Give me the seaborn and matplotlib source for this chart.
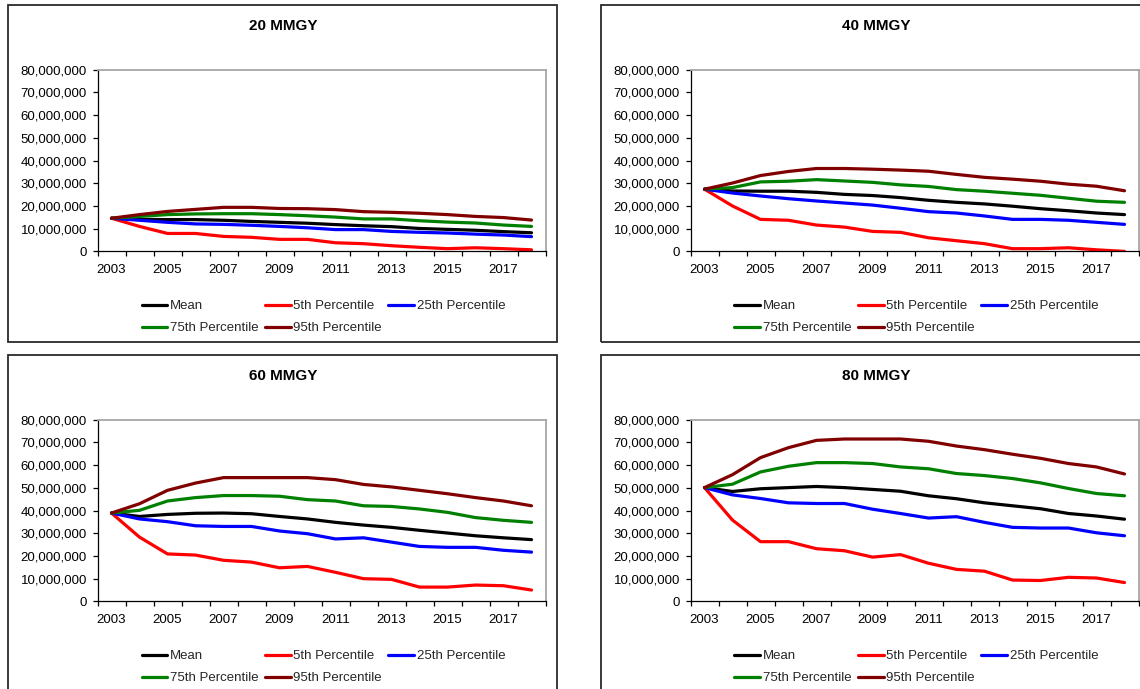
import numpy as np
import pandas as pd
import matplotlib
matplotlib.use("Agg")
import matplotlib.pyplot as plt
import seaborn as sns
from matplotlib.patches import Rectangle
from matplotlib.lines import Line2D
from matplotlib.ticker import FuncFormatter, FixedLocator

# ---------------- data (values in millions) ----------------
years = list(range(2003, 2019))
year_tick_labels = ["2003", "2005", "2007", "2009", "2011", "2013", "2015", "2017"]
panel_titles = ["20 MMGY", "40 MMGY", "60 MMGY", "80 MMGY"]
series_names = ["Mean", "5th Percentile", "25th Percentile", "75th Percentile", "95th Percentile"]
series_colors = ["#000000", "#ff0000", "#0000ff", "#008000", "#800000"]

mmgy20_mean = [14.6, 14.1, 14.0, 14.0, 13.7, 13.2, 12.8, 12.4, 11.8, 11.3, 10.9, 10.1, 9.7, 9.3, 8.7, 8.2]
mmgy20_p5   = [14.6, 11.0, 7.9, 7.9, 6.6, 6.2, 5.3, 5.3, 3.8, 3.4, 2.5, 1.8, 1.2, 1.6, 1.2, 0.7]
mmgy20_p25  = [14.6, 13.7, 12.8, 12.1, 11.9, 11.5, 11.0, 10.4, 9.6, 9.6, 8.8, 8.4, 8.1, 7.6, 7.2, 6.5]
mmgy20_p75  = [14.6, 15.4, 16.2, 16.5, 16.6, 16.6, 16.2, 15.7, 15.1, 14.3, 14.3, 13.5, 12.9, 12.5, 11.6, 11.0]
mmgy20_p95  = [14.6, 16.2, 17.6, 18.5, 19.4, 19.4, 18.9, 18.8, 18.4, 17.5, 17.2, 16.8, 16.2, 15.4, 14.9, 13.8]

mmgy40_mean = [27.4, 26.6, 26.5, 26.5, 26.0, 25.1, 24.6, 23.7, 22.5, 21.6, 20.9, 19.9, 18.8, 17.9, 16.9, 16.2]
mmgy40_p5   = [27.4, 20.0, 14.1, 13.7, 11.6, 10.7, 8.8, 8.4, 6.0, 4.7, 3.4, 1.2, 1.2, 1.6, 0.7, 0.0]
mmgy40_p25  = [27.4, 25.7, 24.4, 23.2, 22.2, 21.3, 20.4, 19.0, 17.5, 16.9, 15.6, 14.1, 14.1, 13.7, 12.8, 11.9]
mmgy40_p75  = [27.4, 28.1, 30.6, 30.9, 31.6, 31.0, 30.4, 29.3, 28.6, 27.2, 26.5, 25.6, 24.7, 23.4, 22.1, 21.6]
mmgy40_p95  = [27.4, 30.1, 33.4, 35.2, 36.5, 36.5, 36.2, 35.8, 35.3, 33.9, 32.6, 31.8, 30.9, 29.6, 28.7, 26.7]

mmgy60_mean = [38.9, 37.4, 38.3, 38.8, 38.9, 38.6, 37.4, 36.3, 34.8, 33.6, 32.6, 31.3, 30.1, 28.9, 28.0, 27.2]
mmgy60_p5   = [38.9, 28.3, 20.9, 20.4, 18.1, 17.3, 14.8, 15.4, 12.8, 10.0, 9.7, 6.3, 6.3, 7.2, 6.9, 5.0]
mmgy60_p25  = [38.9, 36.3, 35.1, 33.3, 33.0, 33.0, 31.0, 29.8, 27.5, 28.0, 26.1, 24.2, 23.8, 23.8, 22.5, 21.7]
mmgy60_p75  = [38.9, 40.1, 44.2, 45.7, 46.6, 46.6, 46.3, 44.8, 44.2, 42.1, 41.8, 40.7, 39.2, 36.9, 35.7, 34.8]
mmgy60_p95  = [38.9, 43.0, 48.9, 52.1, 54.5, 54.5, 54.5, 54.5, 53.6, 51.5, 50.4, 48.9, 47.4, 45.7, 44.2, 42.1]

mmgy80_mean = [50.1, 48.4, 49.6, 50.1, 50.6, 50.1, 49.3, 48.5, 46.5, 45.2, 43.4, 42.1, 40.8, 38.7, 37.6, 36.2]
mmgy80_p5   = [50.1, 35.8, 26.3, 26.3, 23.2, 22.3, 19.5, 20.6, 16.8, 14.1, 13.3, 9.4, 9.2, 10.6, 10.3, 8.3]
mmgy80_p25  = [50.1, 46.9, 45.3, 43.4, 43.1, 43.1, 40.6, 38.7, 36.7, 37.3, 34.8, 32.6, 32.3, 32.3, 30.2, 28.9]
mmgy80_p75  = [50.1, 51.6, 57.0, 59.5, 61.1, 61.1, 60.7, 59.2, 58.4, 56.3, 55.4, 54.1, 52.2, 49.7, 47.5, 46.5]
mmgy80_p95  = [50.1, 55.8, 63.3, 67.7, 70.9, 71.5, 71.5, 71.5, 70.5, 68.4, 66.8, 64.8, 63.0, 60.7, 59.2, 56.1]

panel_series = [
    [mmgy20_mean, mmgy20_p5, mmgy20_p25, mmgy20_p75, mmgy20_p95],
    [mmgy40_mean, mmgy40_p5, mmgy40_p25, mmgy40_p75, mmgy40_p95],
    [mmgy60_mean, mmgy60_p5, mmgy60_p25, mmgy60_p75, mmgy60_p95],
    [mmgy80_mean, mmgy80_p5, mmgy80_p25, mmgy80_p75, mmgy80_p95],
]

# ---------------- figure ----------------
W, H = 1140, 689
sns.set_theme(style="white")
plt.rcParams["font.family"] = ["Liberation Sans", "DejaVu Sans"]
fig = plt.figure(figsize=(W / 100, H / 100), dpi=100)
fig.patch.set_facecolor("white")

TICK_FS = 9.5
LEG_FS = 9.5
TITLE_FS = 11

# panel geometry in pixels: frame left, frame top
frames = [(8, 5), (601, 5), (8, 355), (601, 355)]
FRAME_W, FRAME_H = 549, 337
PLOT_DX, PLOT_DY_TOP, PLOT_W, PLOT_H = 89.5, 64.7, 448, 181.7

palette = dict(zip(series_names, series_colors))
n = len(years)

for k, (fx, fy) in enumerate(frames):
    # outer frame
    fig.patches.append(Rectangle((fx / W, 1 - (fy + FRAME_H) / H), FRAME_W / W, FRAME_H / H,
                                 transform=fig.transFigure, fill=False,
                                 edgecolor="#2a2a2a", linewidth=1.3, zorder=0))
    left = (fx + PLOT_DX) / W
    top = fy + PLOT_DY_TOP
    ax = fig.add_axes([left, 1 - (top + PLOT_H) / H, PLOT_W / W, PLOT_H / H])

    rows = []
    for name, vals in zip(series_names, panel_series[k]):
        for i, v in enumerate(vals):
            rows.append({"pos": i, "value": v * 1e6, "series": name})
    df = pd.DataFrame(rows)
    sns.lineplot(data=df, x="pos", y="value", hue="series", hue_order=series_names,
                 palette=palette, linewidth=2.3, legend=False, ax=ax, sort=False)

    ax.set_xlim(-0.5, n - 0.5)
    ax.set_ylim(0, 80e6)
    ax.set_xlabel("")
    ax.set_ylabel("")
    ax.set_facecolor("white")

    ax.xaxis.set_major_locator(FixedLocator(list(range(0, n, 2))))
    ax.set_xticklabels(year_tick_labels)
    ax.xaxis.set_minor_locator(FixedLocator([i - 0.5 for i in range(n + 1)]))
    ax.tick_params(axis="x", which="major", length=0, pad=9, labelsize=TICK_FS, labelcolor="black")
    ax.tick_params(axis="x", which="minor", length=3.6, width=0.9, color="black", direction="out", bottom=True)
    ax.set_yticks(np.arange(0, 80e6 + 1, 10e6))
    ax.yaxis.set_major_formatter(FuncFormatter(lambda v, p: f"{int(round(v)):,}"))
    ax.tick_params(axis="y", which="major", length=3.6, width=0.9, color="black", direction="out",
                   left=True, pad=4, labelsize=TICK_FS, labelcolor="black")

    for side in ("left", "bottom"):
        ax.spines[side].set_color("black")
        ax.spines[side].set_linewidth(0.9)
    for side in ("top", "right"):
        ax.spines[side].set_color("#a6a6a6")
        ax.spines[side].set_linewidth(1.3)

    # title centred on the frame
    fig.text((fx + FRAME_W / 2 + 1) / W, 1 - (fy + 21) / H, panel_titles[k],
             ha="center", va="center", fontsize=TITLE_FS, fontweight="bold", color="black")

    # legend (row-wise ordering like Excel)
    handles = [Line2D([], [], color=c, linewidth=2.3) for c in series_colors]
    order = [0, 3, 1, 4, 2]
    fig.legend([handles[i] for i in order], [series_names[i] for i in order],
               ncol=3, loc="upper left",
               bbox_to_anchor=((fx + 133.5) / W, 1 - (fy + 295) / H),
               bbox_transform=fig.transFigure,
               frameon=False, fontsize=LEG_FS, handlelength=1.97, handletextpad=0.17,
               columnspacing=0.5, labelspacing=0.75, borderpad=0, borderaxespad=0)

fig.savefig("out.png", dpi=100, facecolor="white")
